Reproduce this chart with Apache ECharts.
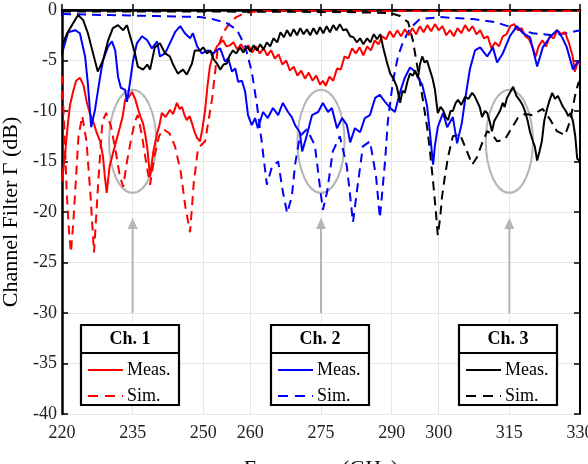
<!DOCTYPE html>
<html>
<head>
<meta charset="utf-8">
<script src="https://cdn.jsdelivr.net/npm/echarts@6/dist/echarts.min.js"></script>
<style>
html,body{margin:0;padding:0;background:#fff;}
#main{width:588px;height:464px;}
</style>
</head>
<body>
<div id="main"></div>
<script>
// tick positions of the frequency axis (GHz)
var freqTicks = [220, 235, 250, 260, 275, 290, 300, 315, 330];

// Ch. 1 (red)
var ch1Meas = [[220.0,-17.0],[220.6,-14.5],[221.2,-11.5],[221.7,-9.4],[222.4,-8.0],[223.0,-7.0],[223.8,-6.7],[224.6,-7.5],[225.2,-9.0],[225.9,-10.2],[226.6,-11.0],[227.4,-12.2],[228.1,-13.0],[228.7,-14.5],[229.1,-16.5],[229.5,-18.1],[230.1,-15.5],[230.8,-14.2],[231.5,-13.0],[232.3,-11.6],[232.9,-10.5],[233.4,-8.9],[234.2,-8.6],[234.9,-8.1],[235.6,-8.9],[236.2,-9.9],[236.7,-10.6],[237.2,-11.2],[237.7,-12.4],[238.1,-13.6],[238.7,-16.5],[239.4,-14.0],[240.2,-12.2],[240.7,-11.4],[241.2,-10.2],[242.0,-10.6],[242.9,-9.9],[243.6,-10.3],[244.4,-9.2],[245.0,-9.8],[245.5,-9.6],[246.0,-10.4],[246.5,-10.9],[247.1,-10.5],[247.6,-11.2],[248.1,-12.0],[248.6,-12.6],[249.3,-13.0],[249.8,-11.8],[250.4,-9.9],[250.9,-7.5],[251.4,-5.6],[252.1,-4.4],[252.9,-3.6],[253.5,-3.3],[254.2,-3.0],[254.9,-3.6],[255.7,-3.5],
  [256.4,-3.2],[257.2,-3.9],[258.0,-3.4],[258.8,-4.0],[259.6,-3.5],[260.4,-4.2],[261.2,-3.6],[262.0,-4.3],[262.8,-3.8],[263.6,-4.5],[264.4,-4.0],[265.2,-4.8],[266.0,-4.4],[266.8,-5.4],[267.6,-5.0],[268.4,-6.0],[269.2,-5.6],[270.0,-6.5],[270.8,-6.0],[271.6,-6.8],[272.4,-6.2],[273.2,-7.0],[274.0,-6.5],[274.8,-7.4],[275.4,-7.0],[276.0,-7.5],[276.8,-6.6],[277.6,-7.0],[278.4,-5.8],[279.2,-5.9],[280.0,-4.6],[280.8,-4.8],[281.6,-3.8],[282.4,-4.3],[283.2,-3.7],[284.0,-4.5],[284.8,-3.6],[285.6,-4.0],[286.4,-3.0],[287.2,-3.4],[288.0,-2.6],[288.8,-2.9],[289.6,-2.1],[290.4,-2.7],[291.2,-2.0],[292.0,-2.6],[292.8,-1.9],[293.6,-2.5],[294.4,-1.8],[295.2,-2.4],[296.0,-1.6],[296.8,-2.2],[297.6,-1.5],[298.4,-2.1],[299.2,-1.4],[300.0,-2.0],[300.8,-1.6],[301.6,-2.5],[302.4,-2.0],[303.2,-2.6],[304.0,-1.8],[304.8,-2.3],[305.6,-1.5],[306.4,-2.1],[307.2,-1.6],[308.0,-2.4],[308.8,-2.0],[309.6,-2.8],[310.4,-2.6],[311.2,-3.8],[312.0,-3.2],[312.8,-3.6],[313.6,-2.6],[314.4,-2.4],[315.2,-1.6],[316.0,-1.4],[316.8,-2.0],[317.6,-1.8],[318.4,-2.6],[319.2,-2.9],[320.0,-3.8],[320.6,-4.6],[321.2,-3.6],[322.0,-3.0],[322.8,-3.6],[323.6,-2.6],[324.4,-2.8],[325.2,-2.0],[326.0,-2.4],[326.8,-2.2],[327.6,-3.2],[328.4,-4.5],[328.9,-6.1],[329.5,-5.2],[330.0,-5.4]];
var ch1Sim = [[220.0,-6.5],[220.5,-12.0],[221.0,-18.0],[221.5,-22.0],[221.9,-24.0],[222.4,-21.0],[222.8,-18.0],[223.5,-12.5],[224.3,-10.5],[225.2,-13.0],[226.0,-18.0],[226.8,-24.0],[227.7,-17.0],[228.6,-11.0],[229.4,-10.2],[230.4,-11.5],[231.4,-14.0],[232.3,-16.5],[233.0,-17.5],[233.8,-15.0],[234.8,-12.5],[235.5,-11.0],[236.1,-10.4],[237.0,-12.5],[238.0,-15.5],[238.7,-17.3],[239.6,-14.5],[240.6,-12.5],[241.5,-11.8],[242.8,-12.2],[244.0,-13.5],[245.2,-16.0],[246.2,-19.5],[247.2,-22.0],[248.0,-17.0],[248.9,-13.7],[250.4,-13.0],[251.9,-8.7],[253.1,-3.7],[254.3,-2.2],[255.3,-1.5],[257.0,-0.7],[258.9,-0.3],[262.0,-0.1],[330.0,-0.1]];

// Ch. 2 (blue)
var ch2Meas = [[220.0,-4.3],[221.3,-2.2],[222.8,-2.0],[223.8,-2.3],[224.9,-4.6],[225.5,-7.3],[226.2,-11.6],[227.0,-9.9],[228.1,-6.6],[228.7,-5.0],[229.8,-3.6],[230.6,-3.1],[231.3,-4.0],[231.9,-6.6],[232.5,-7.7],[233.4,-7.9],[233.8,-9.1],[234.4,-7.3],[235.1,-5.0],[235.9,-3.3],[237.0,-2.6],[238.1,-3.0],[239.1,-3.8],[240.2,-3.1],[240.8,-4.6],[241.9,-4.3],[242.9,-3.3],[244.0,-2.2],[245.1,-1.6],[246.1,-2.3],[247.2,-2.8],[247.8,-2.3],[248.7,-3.6],[249.7,-4.3],[251.0,-4.0],[252.1,-4.3],[253.1,-3.9],[253.6,-3.8],[254.6,-5.1],[255.3,-4.8],[256.1,-6.1],[256.8,-5.8],[257.4,-7.1],[258.2,-7.0],[258.9,-8.1],[259.5,-10.4],[260.3,-11.4],[261.0,-10.7],[261.6,-11.7],[262.7,-10.1],[263.7,-10.7],[264.8,-9.7],[265.9,-10.4],[266.9,-9.2],[268.0,-10.1],[268.8,-10.6],[269.5,-11.4],[270.5,-12.1],[271.0,-14.0],[272.0,-12.4],[273.1,-10.4],[274.4,-10.1],[275.4,-9.2],[276.5,-10.1],[277.3,-9.7],[278.4,-11.7],[279.5,-10.7],[280.5,-11.4],[281.2,-13.1],[282.2,-11.7],[283.3,-12.1],[284.3,-10.7],[285.4,-10.4],[286.5,-8.7],[287.5,-8.4],[288.6,-9.1],[289.7,-9.7],[290.7,-10.1],[291.8,-8.1],[292.8,-6.7],[293.9,-5.7],[295.0,-6.1],[295.6,-6.7],[296.5,-7.4],[297.5,-9.4],[298.1,-12.0],[298.8,-15.3],[299.2,-13.4],[299.8,-11.6],[300.9,-10.2],[301.8,-11.6],[303.0,-10.6],[303.9,-13.2],[304.9,-11.2],[305.6,-8.9],[306.6,-5.9],[307.7,-4.0],[308.8,-3.7],[309.6,-4.2],[310.3,-4.6],[311.5,-3.7],[312.4,-5.2],[313.6,-4.3],[315.1,-2.6],[316.6,-1.6],[317.9,-2.3],[319.4,-2.7],[320.9,-5.6],[322.1,-3.7],[323.6,-2.7],[325.1,-2.0],[326.2,-2.7],[327.2,-3.7],[328.5,-5.9],[329.4,-5.2],[330.0,-5.0]];
var ch2Sim = [[220.0,-0.4],[230.0,-0.5],[240.0,-0.6],[249.3,-0.7],[252.0,-0.9],[255.0,-1.3],[257.2,-2.0],[258.9,-3.6],[260.3,-6.1],[261.4,-9.4],[262.5,-13.4],[263.5,-17.3],[264.6,-15.5],[265.9,-15.0],[266.9,-18.0],[267.8,-20.1],[268.8,-18.5],[269.5,-15.3],[270.5,-12.5],[272.0,-11.8],[273.7,-13.4],[274.8,-17.6],[275.4,-19.8],[276.3,-18.0],[277.5,-14.0],[279.0,-12.5],[280.5,-15.5],[281.8,-21.0],[282.6,-18.0],[283.9,-13.5],[285.4,-13.0],[286.7,-16.5],[287.5,-20.6],[288.6,-15.0],[289.2,-11.0],[290.3,-7.0],[291.4,-4.5],[292.4,-3.2],[293.9,-1.8],[296.0,-0.9],[300.3,-0.7],[307.3,-0.9],[312.0,-1.2],[316.0,-1.8],[320.0,-2.3],[324.3,-2.5],[327.0,-2.3],[330.0,-2.0]];

// Ch. 3 (black)
var ch3Meas = [[220.0,-4.5],[220.2,-3.3],[221.1,-2.3],[222.1,-1.5],[223.4,-0.5],[224.5,-1.0],[225.5,-2.3],[226.6,-4.3],[227.6,-6.1],[228.7,-5.0],[229.8,-3.0],[230.8,-1.8],[231.9,-1.5],[233.0,-2.0],[233.8,-1.5],[234.9,-3.3],[235.5,-4.3],[236.1,-5.6],[237.2,-5.9],[238.1,-5.4],[238.7,-5.9],[239.7,-3.7],[240.8,-3.3],[241.9,-4.3],[242.9,-4.6],[243.6,-5.4],[244.6,-6.3],[245.7,-5.9],[246.5,-6.4],[247.6,-5.3],[248.2,-4.0],[249.3,-4.0],[250.0,-3.7],[250.8,-4.3],[251.5,-4.0],[252.1,-4.8],[252.9,-5.3],[253.6,-5.9],[254.3,-5.4],[255.0,-5.3],[255.6,-4.5],[256.3,-4.0],[257.0,-4.3],[257.8,-3.7],[258.5,-4.2],[259.3,-3.6],[260.0,-4.1],[260.7,-3.5],[261.4,-4.0],[262.1,-3.4],[262.8,-3.9],[263.5,-3.2],[264.2,-3.6],[264.9,-2.8],[265.7,-3.2],[266.4,-2.2],[267.1,-2.7],[267.8,-2.0],[268.5,-2.6],[269.2,-1.9],[269.9,-2.5],[270.6,-1.8],[271.3,-2.4],[272.0,-1.9],[272.7,-2.5],[273.4,-1.8],[274.1,-2.4],[274.8,-1.7],[275.5,-2.3],[276.2,-1.6],[276.9,-2.2],[277.6,-1.5],[278.3,-2.0],[279.0,-1.4],[279.7,-2.0],[280.4,-1.9],[281.2,-2.6],[281.9,-2.7],[282.6,-3.2],[283.3,-2.8],[284.0,-3.4],[284.8,-2.8],[285.5,-3.2],[286.2,-2.4],[286.9,-2.9],[287.6,-2.4],[288.2,-3.7],[288.9,-5.0],[289.7,-6.3],[290.4,-6.8],[291.1,-7.6],[291.8,-9.2],[292.3,-8.0],[292.8,-8.2],[293.4,-7.0],[293.9,-6.3],[294.5,-6.5],[295.0,-6.0],[295.6,-6.7],[296.0,-5.4],[296.5,-4.6],[297.0,-5.2],[297.5,-5.0],[298.1,-5.9],[298.7,-6.8],[299.2,-7.9],[299.8,-10.2],[300.4,-9.6],[300.9,-9.9],[301.5,-10.6],[302.0,-10.9],[302.5,-10.0],[303.0,-10.0],[303.6,-9.2],[304.1,-8.9],[304.8,-9.4],[305.6,-8.6],[306.3,-8.8],[307.1,-8.2],[307.6,-8.5],[308.1,-9.0],[308.7,-9.6],[309.2,-10.6],[309.8,-10.0],[310.3,-10.2],[310.8,-11.0],[311.3,-12.0],[311.8,-11.0],[312.4,-10.5],[313.0,-10.0],[313.6,-9.2],[314.0,-9.6],[314.5,-8.7],[315.1,-8.2],[315.8,-7.6],[316.5,-8.5],[317.3,-9.0],[317.8,-9.4],[318.3,-10.0],[318.9,-11.0],[319.4,-12.1],[320.0,-13.0],[320.4,-13.5],[320.9,-14.9],[321.4,-14.0],[321.9,-13.0],[322.4,-11.0],[323.0,-9.8],[323.5,-9.0],[324.1,-8.2],[324.7,-8.8],[325.3,-8.5],[325.8,-9.0],[326.4,-9.6],[327.0,-10.0],[327.5,-10.5],[328.0,-10.2],[328.5,-11.0],[329.0,-12.5],[329.4,-14.7],[330.0,-15.0]];
var ch3Sim = [[220.0,-0.15],[250.0,-0.15],[280.0,-0.2],[289.7,-0.3],[291.8,-0.6],[293.5,-1.2],[294.5,-3.0],[295.6,-6.0],[296.5,-8.5],[297.5,-11.5],[298.1,-13.8],[298.8,-17.0],[299.4,-20.0],[299.8,-22.3],[300.3,-20.6],[300.7,-18.5],[301.3,-16.5],[302.0,-14.5],[303.0,-12.5],[304.5,-12.3],[306.0,-14.0],[307.1,-15.3],[308.1,-14.6],[309.2,-13.2],[310.3,-12.0],[311.3,-12.3],[312.4,-13.0],[314.1,-12.8],[315.6,-11.6],[316.8,-10.7],[318.3,-10.3],[319.8,-10.4],[322.1,-9.8],[323.6,-10.8],[325.1,-12.0],[326.8,-12.4],[327.9,-11.0],[328.9,-8.6],[329.6,-7.3],[330.0,-7.0]];

// circled regions (frequency, dB at ellipse centre)
var circled = [[235, -13], [275, -13], [315, -13]];

var FONT = 'Liberation Serif';
var GREY = '#b5b5b5';

var chart = echarts.init(document.getElementById('main'), null, {renderer: 'canvas'});

function line(name, data, color, dashed) {
    return {
        name: name,
        type: 'line',
        data: data,
        symbol: 'none',
        showSymbol: false,
        animation: false,
        z: 3,
        lineStyle: {color: color, width: 2, type: dashed ? [9, 6] : 'solid'},
        itemStyle: {color: color}
    };
}

function legendBox(names, left) {
    return {
        data: [{name: names[0]}, {name: names[1], lineStyle: {type: [10, 7]}}],
        orient: 'vertical',
        left: left + 1,
        top: 356,
        itemWidth: 35,
        itemHeight: 14,
        itemGap: 8,
        selectedMode: false,
        z: 10,
        itemStyle: {opacity: 0},
        formatter: function (n) { return n.split(' ').pop(); },
        textStyle: {fontFamily: FONT, fontSize: 18, color: '#000', padding: [0, 0, 0, -1]}
    };
}

function boxGraphic(left, title) {
    return [
        {type: 'rect', z: 5, shape: {x: left, y: 325, width: 98, height: 80}, style: {fill: '#fff', stroke: '#000', lineWidth: 2.2}},
        {type: 'line', z: 6, shape: {x1: left, y1: 353, x2: left + 98, y2: 353}, style: {stroke: '#000', lineWidth: 2.2}},
        {type: 'text', z: 6, x: left + 49, y: 339, style: {text: title, font: 'bold 18px "Liberation Serif"', fill: '#000', align: 'center', verticalAlign: 'middle'}}
    ];
}

var option = {
    backgroundColor: '#fff',
    animation: false,
    grid: {left: 62, right: 8, top: 10, bottom: 50, containLabel: false, outerBoundsMode: 'none'},
    xAxis: [{
        type: 'value', min: 220, max: 330, position: 'bottom',
        name: 'Frequency (GHz)', nameLocation: 'middle', nameGap: 44,
        nameTextStyle: {fontFamily: FONT, fontSize: 22, color: '#000'},
        axisLine: {lineStyle: {color: '#000', width: 2.5}},
        axisTick: {inside: true, length: 6, customValues: freqTicks, lineStyle: {color: '#000', width: 1.5}},
        axisLabel: {customValues: freqTicks, margin: 10, fontFamily: FONT, fontSize: 18, color: '#222'},
        splitLine: {show: true, lineStyle: {color: '#e6e6e6', width: 1}}
    }, {
        type: 'value', min: 220, max: 330, position: 'top',
        axisLine: {lineStyle: {color: '#000', width: 2}},
        axisTick: {inside: true, length: 6, customValues: freqTicks, lineStyle: {color: '#000', width: 1.5}},
        axisLabel: {show: false},
        splitLine: {show: false}
    }],
    yAxis: [{
        type: 'value', min: -40, max: 0, interval: 5, position: 'left',
        name: 'Channel Filter \u0393 (dB)', nameLocation: 'middle', nameGap: 36,
        nameTextStyle: {fontFamily: FONT, fontSize: 22, color: '#000'},
        axisLine: {show: true, lineStyle: {color: '#000', width: 2.5}},
        axisTick: {show: true, inside: true, length: 6, lineStyle: {color: '#000', width: 1.5}},
        axisLabel: {margin: 5, fontFamily: FONT, fontSize: 18, color: '#222'},
        splitLine: {show: true, lineStyle: {color: '#e6e6e6', width: 1}}
    }, {
        type: 'value', min: -40, max: 0, interval: 5, position: 'right',
        axisLine: {show: true, lineStyle: {color: '#000', width: 2}},
        axisTick: {show: true, inside: true, length: 6, lineStyle: {color: '#000', width: 1.5}},
        axisLabel: {show: false},
        splitLine: {show: false}
    }],
    legend: [
        legendBox(['Ch. 1 Meas.', 'Ch. 1 Sim.'], 81),
        legendBox(['Ch. 2 Meas.', 'Ch. 2 Sim.'], 271),
        legendBox(['Ch. 3 Meas.', 'Ch. 3 Sim.'], 459)
    ],
    graphic: {elements: [].concat(boxGraphic(81, 'Ch. 1'), boxGraphic(271, 'Ch. 2'), boxGraphic(459, 'Ch. 3'))},
    series: [
        {
            type: 'custom',
            data: circled,
            silent: true,
            z: 1,
            renderItem: function (params, api) {
                var f = api.value(0);
                var c = api.coord([f, api.value(1)]);
                var r = api.size([5, 5.1]);
                var tip = api.coord([f, -20.6]);
                var bot = api.coord([f, -30]);
                return {
                    type: 'group',
                    children: [
                        {type: 'ellipse', shape: {cx: c[0], cy: c[1], rx: r[0], ry: r[1]}, style: {fill: 'none', stroke: GREY, lineWidth: 2}},
                        {type: 'line', shape: {x1: bot[0], y1: bot[1], x2: tip[0], y2: tip[1] + 8}, style: {stroke: GREY, lineWidth: 2}},
                        {type: 'polygon', shape: {points: [[tip[0], tip[1]], [tip[0] - 5, tip[1] + 11], [tip[0] + 5, tip[1] + 11]]}, style: {fill: GREY}}
                    ]
                };
            }
        },
        line('Ch. 1 Sim.', ch1Sim, '#ff0000', true),
        line('Ch. 2 Sim.', ch2Sim, '#0000ff', true),
        line('Ch. 3 Sim.', ch3Sim, '#000000', true),
        line('Ch. 1 Meas.', ch1Meas, '#ff0000', false),
        line('Ch. 2 Meas.', ch2Meas, '#0000ff', false),
        line('Ch. 3 Meas.', ch3Meas, '#000000', false)
    ]
};

chart.setOption(option);
</script>
</body>
</html>
